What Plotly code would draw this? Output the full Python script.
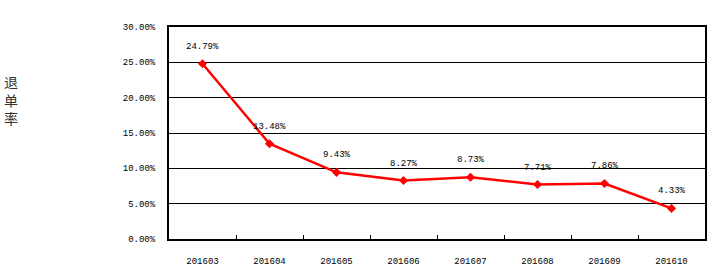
import plotly.graph_objects as go

months = ["201603", "201604", "201605", "201606", "201607", "201608", "201609", "201610"]
rates = [24.79, 13.48, 9.43, 8.27, 8.73, 7.71, 7.86, 4.33]
y_ticks = [0, 5, 10, 15, 20, 25, 30]
y_title = "退单率"

fig = go.Figure()
fig.add_trace(go.Scatter(
    x=list(range(len(months))), y=rates, mode="lines+markers",
    line=dict(color="#ff0000", width=2.5),
    marker=dict(symbol="diamond", size=7, color="#ff0000"),
    hoverinfo="skip",
))

for i, r in enumerate(rates):
    fig.add_annotation(x=i, y=r, xref="x", yref="y", text=f"{r:.2f}%", showarrow=False, yshift=17,
                       font=dict(family="Liberation Mono, DejaVu Sans Mono", size=9, color="#000000"))

# vertical title
plot_top, plot_h = 27, 213
fig.add_annotation(xref="paper", yref="paper", x=-159 / 538, y=(plot_top + plot_h - 100) / plot_h,
                   xanchor="center", yanchor="middle", text="<br>".join(y_title), showarrow=False,
                   font=dict(family="Noto Sans CJK SC", size=14, color="#333333"))

fig.update_layout(
    width=714, height=274,
    margin=dict(l=169, r=7, t=27, b=34),
    plot_bgcolor="white", paper_bgcolor="white",
    showlegend=False,
)
fig.update_xaxes(
    tickmode="array", tickvals=list(range(len(months))), ticktext=months,
    showgrid=False, showline=True, linecolor="black", linewidth=2, mirror=True,
    ticks="", ticklabelstandoff=12, zeroline=False,
    tickfont=dict(family="Liberation Mono, DejaVu Sans Mono", size=9, color="#000000"),
    range=[-0.5, len(months) - 0.5],
    minor=dict(tickvals=[i + 0.5 for i in range(len(months) - 1)], ticks="inside", ticklen=4,
               tickcolor="black", showgrid=False),
)
fig.update_yaxes(
    range=[0, 30], tickvals=y_ticks, ticktext=[f"{v:.2f}%" for v in y_ticks],
    showgrid=True, gridcolor="black", gridwidth=1,
    showline=True, linecolor="black", linewidth=2, mirror=True, zeroline=False,
    tickfont=dict(family="Liberation Mono, DejaVu Sans Mono", size=9, color="#000000"),
    ticks="", ticklabelstandoff=10,
)
fig.write_html("out.html")
